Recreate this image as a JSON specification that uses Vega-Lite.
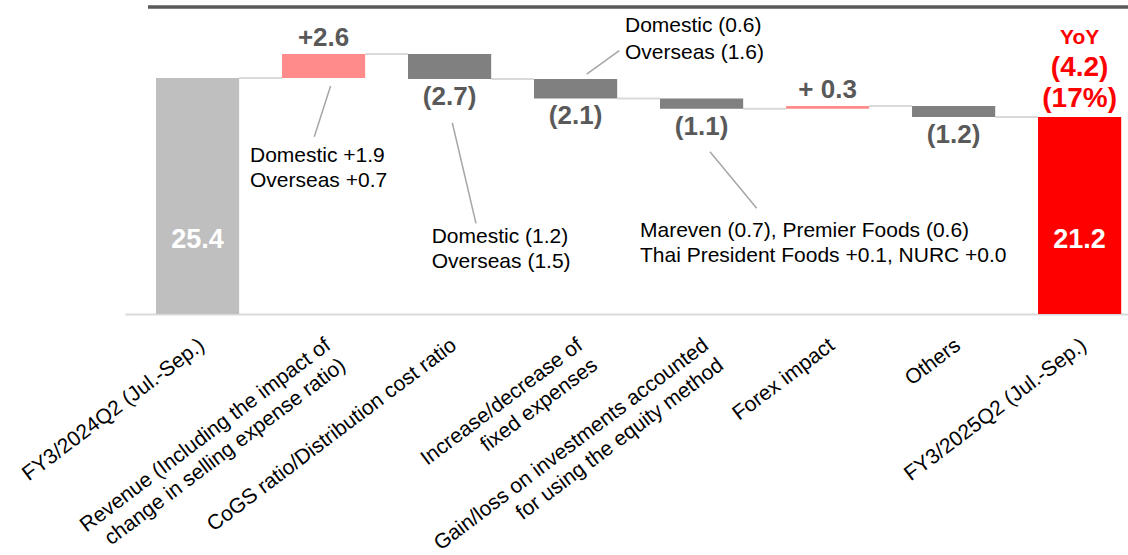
{
  "$schema": "https://vega.github.io/schema/vega-lite/v6.json",
  "autosize": {"type": "none"},
  "padding": {"left": 125, "top": 0, "right": 0, "bottom": 241},
  "width": 1003,
  "height": 314,
  "config": {
    "view": {"stroke": null},
    "font": "Liberation Sans",
    "text": {"font": "Liberation Sans"}
  },
  "datasets": {
    "bars": [
      {"category": "FY3/2024Q2 (Jul.-Sep.)", "start": 0, "end": 25.4, "kind": "base", "label": "25.4"},
      {"category": "Revenue (Including the impact of\nchange in selling expense ratio)", "start": 25.4, "end": 28.0, "kind": "increase", "label": "+2.6"},
      {"category": "CoGS ratio/Distribution cost ratio", "start": 28.0, "end": 25.3, "kind": "decrease", "label": "(2.7)"},
      {"category": "Increase/decrease of\nfixed expenses", "start": 25.3, "end": 23.2, "kind": "decrease", "label": "(2.1)"},
      {"category": "Gain/loss on investments accounted\nfor using the equity method", "start": 23.2, "end": 22.1, "kind": "decrease", "label": "(1.1)"},
      {"category": "Forex impact", "start": 22.1, "end": 22.4, "kind": "increase", "label": "+ 0.3"},
      {"category": "Others", "start": 22.4, "end": 21.2, "kind": "decrease", "label": "(1.2)"},
      {"category": "FY3/2025Q2 (Jul.-Sep.)", "start": 0, "end": 21.2, "kind": "result", "label": "21.2"}
    ],
    "links": [
      {"from": "FY3/2024Q2 (Jul.-Sep.)", "to": "Revenue (Including the impact of\nchange in selling expense ratio)", "level": 25.4},
      {"from": "Revenue (Including the impact of\nchange in selling expense ratio)", "to": "CoGS ratio/Distribution cost ratio", "level": 28.0},
      {"from": "CoGS ratio/Distribution cost ratio", "to": "Increase/decrease of\nfixed expenses", "level": 25.3},
      {"from": "Increase/decrease of\nfixed expenses", "to": "Gain/loss on investments accounted\nfor using the equity method", "level": 23.2},
      {"from": "Gain/loss on investments accounted\nfor using the equity method", "to": "Forex impact", "level": 22.1},
      {"from": "Forex impact", "to": "Others", "level": 22.4},
      {"from": "Others", "to": "FY3/2025Q2 (Jul.-Sep.)", "level": 21.2}
    ],
    "yoy": [
      {"category": "FY3/2025Q2 (Jul.-Sep.)", "total": 21.2, "change": "(4.2)\n(17%)", "tag": "YoY"}
    ]
  },
  "layer": [
    {
      "data": {"values": [{}]},
      "mark": {"type": "rule", "stroke": "#595959", "strokeWidth": 3.5, "xOffset": -49.6, "x2Offset": 48.4},
      "encoding": {
        "x": {"datum": "FY3/2024Q2 (Jul.-Sep.)"},
        "x2": {"datum": "FY3/2025Q2 (Jul.-Sep.)"},
        "y": {"datum": 33.05, "scale": {"domain": [0, 33.8], "nice": false}, "axis": null}
      }
    },
    {
      "data": {"name": "links"},
      "mark": {"type": "rule", "stroke": "#D9D9D9", "strokeWidth": 2, "xOffset": 41.6, "x2Offset": -41.6},
      "encoding": {
        "x": {"field": "from", "type": "nominal", "title": null},
        "x2": {"field": "to", "title": null},
        "y": {"field": "level", "type": "quantitative", "scale": {"domain": [0, 33.8], "nice": false}, "axis": null}
      }
    },
    {
      "data": {"name": "bars"},
      "mark": {"type": "bar"},
      "encoding": {
        "x": {
          "field": "category",
          "type": "nominal",
          "title": null,
          "sort": null,
          "scale": {
            "domain": [
              "FY3/2024Q2 (Jul.-Sep.)",
              "Revenue (Including the impact of\nchange in selling expense ratio)",
              "CoGS ratio/Distribution cost ratio",
              "Increase/decrease of\nfixed expenses",
              "Gain/loss on investments accounted\nfor using the equity method",
              "Forex impact",
              "Others",
              "FY3/2025Q2 (Jul.-Sep.)"
            ],
            "paddingInner": 0.34,
            "paddingOuter": 0.15,
            "align": 0.82
          },
          "axis": {
            "labelAngle": -37,
            "labelAlign": "right",
            "labelBaseline": "top",
            "labelPadding": 20,
            "labelOffset": -2,
            "labelFontSize": 21,
            "labelFont": "Liberation Sans",
            "labelColor": "#000000",
            "labelLineHeight": 25,
            "labelExpr": "split(datum.label, '\\n')",
            "labelLimit": 0,
            "labelOverlap": false,
            "labelBound": false,
            "ticks": false,
            "domainColor": "#D9D9D9",
            "domainWidth": 2
          }
        },
        "y": {"field": "start", "type": "quantitative", "scale": {"domain": [0, 33.8], "nice": false}, "axis": null},
        "y2": {"field": "end"},
        "color": {
          "field": "kind",
          "type": "nominal",
          "legend": null,
          "scale": {"domain": ["base", "increase", "decrease", "result"], "range": ["#BFBFBF", "#FF8B8B", "#808080", "#FF0000"]}
        }
      }
    },
    {
      "data": {"name": "bars"},
      "transform": [{"filter": "datum.kind == 'increase'"}],
      "mark": {"type": "text", "fontSize": 26, "fontWeight": "bold", "color": "#595959", "baseline": "alphabetic", "dy": -8},
      "encoding": {
        "x": {"field": "category", "type": "nominal", "title": null},
        "y": {"field": "end", "type": "quantitative", "scale": {"domain": [0, 33.8], "nice": false}, "axis": null},
        "text": {"field": "label"}
      }
    },
    {
      "data": {"name": "bars"},
      "transform": [{"filter": "datum.kind == 'decrease'"}],
      "mark": {"type": "text", "fontSize": 26, "fontWeight": "bold", "color": "#595959", "baseline": "alphabetic", "dy": 26},
      "encoding": {
        "x": {"field": "category", "type": "nominal", "title": null},
        "y": {"field": "end", "type": "quantitative", "scale": {"domain": [0, 33.8], "nice": false}, "axis": null},
        "text": {"field": "label"}
      }
    },
    {
      "data": {"name": "bars"},
      "transform": [{"filter": "datum.kind == 'base' || datum.kind == 'result'"}],
      "mark": {"type": "text", "fontSize": 27, "fontWeight": "bold", "color": "#FFFFFF", "baseline": "alphabetic", "dy": -66},
      "encoding": {
        "x": {"field": "category", "type": "nominal", "title": null},
        "y": {"datum": 0, "scale": {"domain": [0, 33.8], "nice": false}, "axis": null},
        "text": {"field": "label"}
      }
    },
    {
      "data": {"name": "yoy"},
      "mark": {"type": "text", "fontSize": 28, "fontWeight": "bold", "color": "#FF0000", "baseline": "alphabetic", "dy": -41, "lineBreak": "\n", "lineHeight": 31},
      "encoding": {
        "x": {"field": "category", "type": "nominal", "title": null},
        "y": {"field": "total", "type": "quantitative", "scale": {"domain": [0, 33.8], "nice": false}, "axis": null},
        "text": {"field": "change"}
      }
    },
    {
      "data": {"name": "yoy"},
      "mark": {"type": "text", "fontSize": 21, "fontWeight": "bold", "color": "#FF0000", "baseline": "alphabetic", "dy": -73},
      "encoding": {
        "x": {"field": "category", "type": "nominal", "title": null},
        "y": {"field": "total", "type": "quantitative", "scale": {"domain": [0, 33.8], "nice": false}, "axis": null},
        "text": {"field": "tag"}
      }
    },
    {
      "data": {"values": [{}]},
      "mark": {"type": "rule", "stroke": "#A6A6A6", "strokeWidth": 1.5, "xOffset": 7, "x2Offset": -9.3},
      "encoding": {
        "x": {"datum": "Revenue (Including the impact of\nchange in selling expense ratio)"},
        "x2": {"datum": "Revenue (Including the impact of\nchange in selling expense ratio)"},
        "y": {"datum": 24.54, "scale": {"domain": [0, 33.8], "nice": false}, "axis": null},
        "y2": {"datum": 19.09}
      }
    },
    {
      "data": {"values": [{}]},
      "mark": {"type": "rule", "stroke": "#A6A6A6", "strokeWidth": 1.5, "xOffset": 2.7, "x2Offset": 26.4},
      "encoding": {
        "x": {"datum": "CoGS ratio/Distribution cost ratio"},
        "x2": {"datum": "CoGS ratio/Distribution cost ratio"},
        "y": {"datum": 20.59, "scale": {"domain": [0, 33.8], "nice": false}, "axis": null},
        "y2": {"datum": 9.76}
      }
    },
    {
      "data": {"values": [{}]},
      "mark": {"type": "rule", "stroke": "#A6A6A6", "strokeWidth": 1.5, "xOffset": 11.1, "x2Offset": 43.7},
      "encoding": {
        "x": {"datum": "Increase/decrease of\nfixed expenses"},
        "x2": {"datum": "Increase/decrease of\nfixed expenses"},
        "y": {"datum": 25.83, "scale": {"domain": [0, 33.8], "nice": false}, "axis": null},
        "y2": {"datum": 28.34}
      }
    },
    {
      "data": {"values": [{}]},
      "mark": {"type": "rule", "stroke": "#A6A6A6", "strokeWidth": 1.5, "xOffset": 8.4, "x2Offset": 55.1},
      "encoding": {
        "x": {"datum": "Gain/loss on investments accounted\nfor using the equity method"},
        "x2": {"datum": "Gain/loss on investments accounted\nfor using the equity method"},
        "y": {"datum": 17.47, "scale": {"domain": [0, 33.8], "nice": false}, "axis": null},
        "y2": {"datum": 11.38}
      }
    },
    {
      "data": {"values": [{"note": "Domestic +1.9\nOverseas +0.7"}]},
      "mark": {"type": "text", "fontSize": 21, "color": "#000000", "align": "left", "baseline": "alphabetic", "lineBreak": "\n", "lineHeight": 25, "dx": -73.6},
      "encoding": {
        "x": {"datum": "Revenue (Including the impact of\nchange in selling expense ratio)"},
        "y": {"datum": 16.36, "scale": {"domain": [0, 33.8], "nice": false}, "axis": null},
        "text": {"field": "note"}
      }
    },
    {
      "data": {"values": [{"note": "Domestic (1.2)\nOverseas (1.5)"}]},
      "mark": {"type": "text", "fontSize": 21, "color": "#000000", "align": "left", "baseline": "alphabetic", "lineBreak": "\n", "lineHeight": 25, "dx": -17.9},
      "encoding": {
        "x": {"datum": "CoGS ratio/Distribution cost ratio"},
        "y": {"datum": 7.61, "scale": {"domain": [0, 33.8], "nice": false}, "axis": null},
        "text": {"field": "note"}
      }
    },
    {
      "data": {"values": [{"note": "Domestic (0.6)\nOverseas (1.6)"}]},
      "mark": {"type": "text", "fontSize": 21, "color": "#000000", "align": "left", "baseline": "alphabetic", "lineBreak": "\n", "lineHeight": 27, "dx": 49.4},
      "encoding": {
        "x": {"datum": "Increase/decrease of\nfixed expenses"},
        "y": {"datum": 30.32, "scale": {"domain": [0, 33.8], "nice": false}, "axis": null},
        "text": {"field": "note"}
      }
    },
    {
      "data": {"values": [{"note": "Mareven (0.7), Premier Foods (0.6)\nThai President Foods +0.1, NURC +0.0"}]},
      "mark": {"type": "text", "fontSize": 21, "color": "#000000", "align": "left", "baseline": "alphabetic", "lineBreak": "\n", "lineHeight": 25, "dx": -61.6},
      "encoding": {
        "x": {"datum": "Gain/loss on investments accounted\nfor using the equity method"},
        "y": {"datum": 8.32, "scale": {"domain": [0, 33.8], "nice": false}, "axis": null},
        "text": {"field": "note"}
      }
    }
  ]
}
